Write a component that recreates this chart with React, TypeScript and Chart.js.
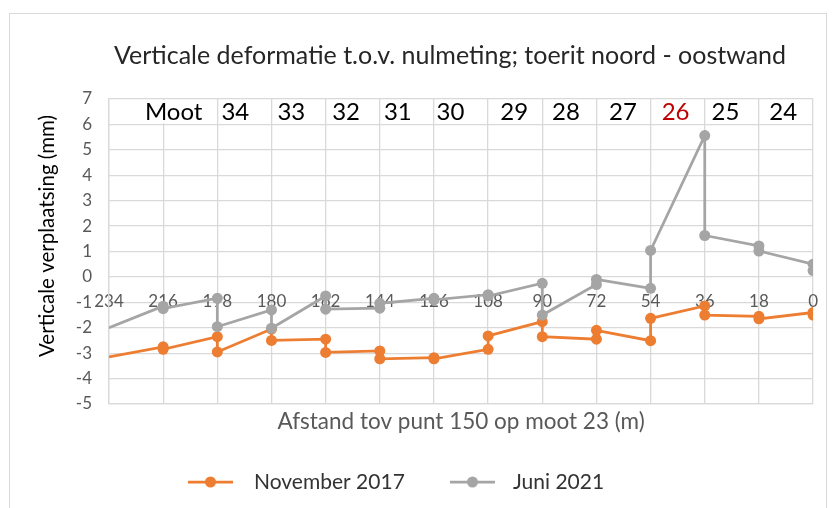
import React, { useEffect, useRef } from "react";
import { Chart, registerables } from "chart.js";

Chart.register(...registerables);

const FONT = "Lato, 'Open Sans', sans-serif";

const chartTitle = "Verticale deformatie t.o.v. nulmeting; toerit noord - oostwand";
const yTitle = "Verticale verplaatsing (mm)";
const xTitle = "Afstand tov punt 150 op moot 23 (m)";

const seriesNames = ["November 2017", "Juni 2021"];

const distX = [234, 216, 216, 198, 198, 180, 180, 162, 162, 144, 144, 126, 126, 108, 108, 90, 90, 72, 72, 54, 54, 36, 36, 18, 18, 0, 0];
const nov2017 = [-3.15, -2.75, -2.85, -2.35, -2.95, -2.05, -2.5, -2.45, -2.97, -2.91, -3.22, -3.18, -3.22, -2.85, -2.32, -1.76, -2.35, -2.45, -2.1, -2.51, -1.63, -1.14, -1.5, -1.55, -1.65, -1.4, -1.5];
const jun2021 = [-2.0, -1.15, -1.25, -0.84, -1.96, -1.3, -2.02, -0.75, -1.27, -1.23, -1.04, -0.84, -0.9, -0.7, -0.75, -0.25, -1.5, -0.3, -0.1, -0.45, 1.04, 5.56, 1.63, 1.22, 1.02, 0.5, 0.25];

const mootLabels = ["Moot", "34", "33", "32", "31", "30", "29", "28", "27", "26", "25", "24"];
const mootCenters = [212.5, 192, 173.4, 155.2, 138, 120.5, 99.3, 82.1, 63.2, 45.7, 29.1, 9.9];
const mootHighlight = "26";
const mootNoDivider = 216;

const X_MIN = 0;
const X_MAX = 234;
const X_STEP = 18;
const Y_MIN = -5;
const Y_MAX = 7;

const ORANGE = "#ED7D31";
const GREY = "#A5A5A5";
const GRID = "#D9D9D9";
const seriesColors = [ORANGE, GREY];

// legend item layout (pixels)
const legendLineX = [188, 450];
const legendTextX = [254, 513];
const legendY = 482;

const overlayPlugin = {
  id: "overlay",
  beforeDatasetsDraw(chart: any) {
    const { ctx, scales } = chart;
    const x = scales.x;
    const y = scales.y;
    const px = x.getPixelForValue(mootNoDivider);
    ctx.save();
    ctx.strokeStyle = "#FFFFFF";
    ctx.lineWidth = 3;
    ctx.beginPath();
    ctx.moveTo(px, y.getPixelForValue(Y_MAX) + 1);
    ctx.lineTo(px, y.getPixelForValue(Y_MAX - 1) - 1);
    ctx.stroke();
    ctx.restore();
  },
  afterDraw(chart: any) {
    const { ctx, scales, chartArea } = chart;
    const x = scales.x;
    const y = scales.y;
    ctx.save();
    ctx.setTransform(1, 0, 0, 1, 0, 0);
    ctx.textAlign = "center";
    ctx.textBaseline = "middle";
    ctx.font = `24px ${FONT}`;
    const ly = y.getPixelForValue(Y_MAX - 0.5) + 1;
    mootLabels.forEach((t, i) => {
      ctx.fillStyle = t === mootHighlight ? "#C00000" : "#000000";
      ctx.fillText(t, x.getPixelForValue(mootCenters[i]), ly);
    });
    ctx.font = `25px ${FONT}`;
    ctx.fillStyle = "#262626";
    ctx.fillText(chartTitle, (chartArea.left + chartArea.right) / 2 - 11, 56);

    // legend
    ctx.textAlign = "left";
    ctx.font = `21px ${FONT}`;
    seriesNames.forEach((name, i) => {
      const c = seriesColors[i];
      ctx.strokeStyle = c;
      ctx.lineWidth = 2.75;
      ctx.beginPath();
      ctx.moveTo(legendLineX[i], legendY);
      ctx.lineTo(legendLineX[i] + 45, legendY);
      ctx.stroke();
      ctx.fillStyle = c;
      ctx.beginPath();
      ctx.arc(legendLineX[i] + 22.5, legendY, 5.5, 0, Math.PI * 2);
      ctx.fill();
      ctx.fillStyle = "#333333";
      ctx.fillText(name, legendTextX[i], legendY);
    });

    // y title
    ctx.textAlign = "center";
    ctx.setTransform(0, -1, 1, 0, 47, 236);
    ctx.font = `20.5px ${FONT}`;
    ctx.fillStyle = "#000000";
    ctx.fillText(yTitle, 0, 0);
    ctx.restore();
  },
};

export default function App() {
  const ref = useRef<HTMLCanvasElement | null>(null);

  useEffect(() => {
    if (!ref.current) return;
    const radii = distX.map((_, i) => (i === 0 ? 0 : 5.5));
    const chart = new Chart(ref.current, {
      type: "line",
      data: {
        datasets: [
          {
            label: seriesNames[0],
            data: distX.map((d, i) => ({ x: d, y: nov2017[i] })),
            borderColor: ORANGE,
            backgroundColor: ORANGE,
            borderWidth: 2.75,
            pointRadius: radii,
            pointHoverRadius: radii,
            pointBorderWidth: 0,
            pointBackgroundColor: ORANGE,
            tension: 0,
            order: 1,
          },
          {
            label: seriesNames[1],
            data: distX.map((d, i) => ({ x: d, y: jun2021[i] })),
            borderColor: GREY,
            backgroundColor: GREY,
            borderWidth: 2.75,
            pointRadius: radii,
            pointHoverRadius: radii,
            pointBorderWidth: 0,
            pointBackgroundColor: GREY,
            tension: 0,
            order: 0,
          },
        ],
      },
      options: {
        animation: false,
        responsive: false,
        maintainAspectRatio: false,
        layout: { padding: { left: 0, right: 16, top: 99, bottom: 0 } },
        plugins: {
          title: { display: false },
          tooltip: { enabled: false },
          legend: { display: false },
        },
        scales: {
          x: {
            type: "linear",
            position: "bottom",
            min: X_MIN,
            max: X_MAX,
            reverse: true,
            ticks: { display: false, stepSize: X_STEP },
            grid: { color: GRID, lineWidth: 1.3, drawTicks: false },
            border: { color: GRID, width: 1.3 },
            title: {
              display: true,
              text: xTitle,
              color: "#595959",
              font: { family: FONT, size: 22.5 },
              padding: { top: 0, bottom: 72.5 },
            },
            afterFit: (s: any) => {
              s.height = 104;
            },
          },
          x2: {
            type: "linear",
            position: { y: 0 } as any,
            min: X_MIN,
            max: X_MAX,
            reverse: true,
            ticks: {
              stepSize: X_STEP,
              color: "#595959",
              font: { family: FONT, size: 17 },
              padding: 14,
              maxRotation: 0,
              autoSkip: false,
            },
            grid: { display: false, drawTicks: false },
            border: { display: false },
          },
          y: {
            type: "linear",
            min: Y_MIN,
            max: Y_MAX,
            ticks: {
              stepSize: 1,
              color: "#595959",
              font: { family: FONT, size: 17 },
              padding: 17,
            },
            grid: { color: GRID, lineWidth: 1.3, drawTicks: false },
            border: { color: GRID, width: 1.3 },
            title: { display: false, text: yTitle },
            afterFit: (s: any) => {
              s.width = 109;
            },
          },
        },
      },
      plugins: [overlayPlugin],
    });
    return () => chart.destroy();
  }, []);

  return (
    <div style={{ position: "absolute", left: 0, top: 0, width: 832, height: 508, background: "#fff", overflow: "hidden" }}>
      <div
        style={{
          position: "absolute",
          left: 9,
          top: 13,
          width: 818,
          height: 520,
          border: "1px solid #D9D9D9",
          boxSizing: "border-box",
        }}
      />
      <canvas ref={ref} width={832} height={508} style={{ position: "absolute", left: 0, top: 0 }} />
    </div>
  );
}
